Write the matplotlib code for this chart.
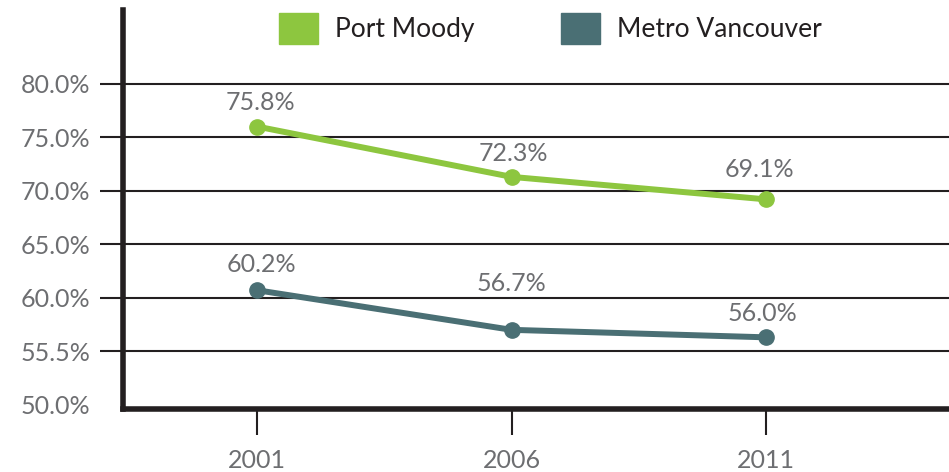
import matplotlib
matplotlib.use("Agg")
import matplotlib.pyplot as plt
from matplotlib.patches import Patch

plt.rcParams['font.family'] = ['Lato', 'DejaVu Sans']

years = [2001, 2006, 2011]
port_moody = [76.0, 71.3, 69.2]
metro_van = [60.7, 57.0, 56.3]
port_moody_labels = ['75.8%', '72.3%', '69.1%']
metro_van_labels = ['60.2%', '56.7%', '56.0%']
ytick_vals = [50, 55, 60, 65, 70, 75, 80]
ytick_labels = ['50.0%', '55.5%', '60.0%', '65.0%', '70.0%', '75.0%', '80.0%']

green = '#8dc63f'
teal = '#4a6f74'
dark = '#231f20'
grey = '#6d6e71'

fig = plt.figure(figsize=(9.49, 4.72), dpi=100)
ax = fig.add_axes([123 / 949, 1 - 409 / 472, 1 - 123 / 949, 399 / 472])

ax.plot(years, port_moody, color=green, lw=4.3, marker='o', ms=11, zorder=4)
ax.plot(years, metro_van, color=teal, lw=4.3, marker='o', ms=11, zorder=4)

# label offsets in pixels (dx, dy)
pm_off = [(3, 24), (2, 23), (-6, 30)]
mv_off = [(4, 26), (0, 46), (-3, 24)]
for x, y, s, o in zip(years, port_moody, port_moody_labels, pm_off):
    ax.annotate(s, (x, y), xytext=o, textcoords='offset pixels',
                ha='center', va='center', fontsize=18, color=grey)
for x, y, s, o in zip(years, metro_van, metro_van_labels, mv_off):
    ax.annotate(s, (x, y), xytext=o, textcoords='offset pixels',
                ha='center', va='center', fontsize=18, color=grey)

ax.set_xlim(1998.36, 2014.6)
ax.set_ylim(49.6, 86.9)

ax.set_yticks(ytick_vals)
ax.set_yticklabels(ytick_labels)
ax.set_xticks(years)
ax.set_xticklabels([str(y) for y in years])

ax.grid(axis='y', color=dark, lw=1.5, zorder=1)
ax.tick_params(axis='y', length=16.5, width=1.5, color=dark, pad=7,
               labelsize=18, labelcolor=grey)
ax.tick_params(axis='x', length=19, width=1.5, color=dark, pad=10,
               labelsize=18, labelcolor=grey)
t0 = ax.yaxis.get_major_ticks()[0]
t0.tick1line.set_visible(False)
t0.gridline.set_visible(False)

for side in ['top', 'right']:
    ax.spines[side].set_visible(False)
for side in ['left', 'bottom']:
    ax.spines[side].set_linewidth(4)
    ax.spines[side].set_color(dark)
    ax.spines[side].set_zorder(5)

handles = [Patch(color=green, label='Port Moody'),
           Patch(color=teal, label='Metro Vancouver')]
fig.legend(handles=handles, loc='center', bbox_to_anchor=(0.58, 0.94),
           ncol=2, frameon=False, fontsize=19, handlelength=1.45,
           handleheight=1.4, handletextpad=0.65, columnspacing=3.3,
           labelcolor='#231f20')

fig.savefig('out.png', dpi=100)
